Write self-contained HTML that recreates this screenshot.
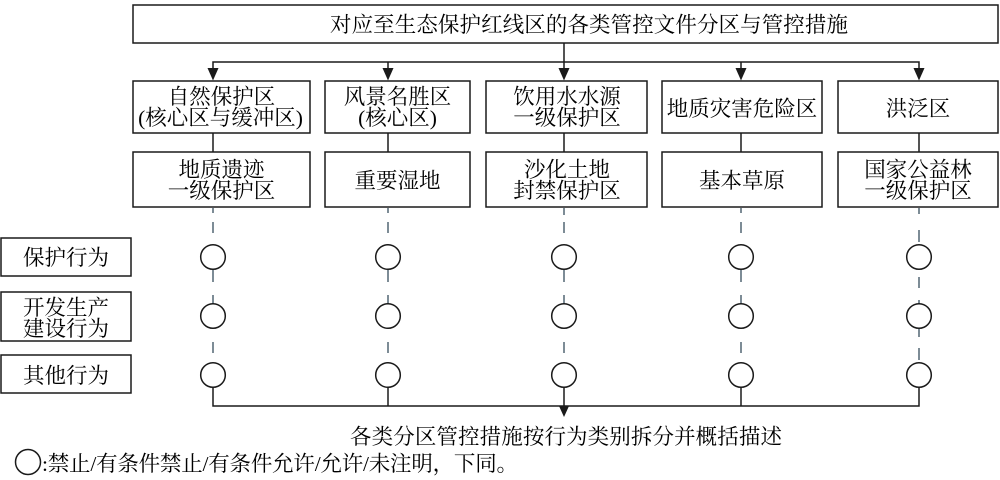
<!DOCTYPE html>
<html><head><meta charset="utf-8"><style>
html,body{margin:0;padding:0;background:#fff;}
svg{display:block;}
text{font-family:"Liberation Serif","Noto Serif CJK SC",serif;font-size:21.5px;fill:#000;}
</style></head><body>
<svg width="1000" height="480" viewBox="0 0 1000 480" xmlns="http://www.w3.org/2000/svg">
<g fill="none" stroke="#1a1a1a" stroke-width="1.5">
<!-- top box -->
<rect x="133" y="5" width="865" height="38"/>
<!-- row1 boxes -->
<rect x="133" y="81" width="177" height="52"/>
<rect x="325" y="81" width="145" height="52"/>
<rect x="486" y="81" width="161" height="52"/>
<rect x="662" y="81" width="160" height="52"/>
<rect x="838" y="81" width="160" height="52"/>
<!-- row2 boxes -->
<rect x="133" y="152" width="177" height="55"/>
<rect x="325" y="152" width="145" height="55"/>
<rect x="486" y="152" width="161" height="55"/>
<rect x="662" y="152" width="160" height="55"/>
<rect x="838" y="152" width="160" height="55"/>
<!-- left label boxes -->
<rect x="1" y="238" width="130" height="38"/>
<rect x="1" y="292" width="130" height="49"/>
<rect x="1" y="355" width="130" height="38"/>
<!-- top connectors -->
<line x1="564" y1="43" x2="564" y2="70"/>
<polyline points="213,70 213,62 919,62 919,70"/>
<line x1="388" y1="62" x2="388" y2="70"/>
<line x1="741" y1="62" x2="741" y2="70"/>
<!-- row1 to row2 -->
<line x1="213" y1="133" x2="213" y2="152"/>
<line x1="388" y1="133" x2="388" y2="152"/>
<line x1="564" y1="133" x2="564" y2="152"/>
<line x1="741" y1="133" x2="741" y2="152"/>
<line x1="919" y1="133" x2="919" y2="152"/>
<!-- bottom connectors -->
<polyline points="213,387 213,406 919,406 919,387"/>
<line x1="388" y1="387" x2="388" y2="406"/>
<line x1="564" y1="387" x2="564" y2="406"/>
<line x1="741" y1="387" x2="741" y2="406"/>
<line x1="564" y1="406" x2="564" y2="410"/>
</g>
<!-- arrowheads -->
<g fill="#1a1a1a" stroke="none">
<polygon points="207.5,68 218.5,68 213,80.5"/>
<polygon points="382.5,68 393.5,68 388,80.5"/>
<polygon points="558.5,68 569.5,68 564,80.5"/>
<polygon points="735.5,68 746.5,68 741,80.5"/>
<polygon points="913.5,68 924.5,68 919,80.5"/>
<polygon points="559,406 569,406 564,417"/>
</g>
<!-- dashed segments -->
<g stroke="#5d6f7c" stroke-width="1.6">
<path d="M213 208V213 M213 222V233 M213 270V282 M213 295V304 M213 342V353"/>
<path d="M388 208V213 M388 222V233 M388 270V282 M388 295V304 M388 342V353"/>
<path d="M564 208V215 M564 222V233 M564 270V282 M564 295V304 M564 342V353"/>
<path d="M741 208V213 M741 222V233 M741 270V282 M741 295V304 M741 342V353"/>
<path d="M919 208V214 M919 230V242 M919 277V288 M919 300V305 M919 329V337 M919 348V360"/>
</g>
<!-- circles -->
<g fill="#fff" stroke="#1a1a1a" stroke-width="1.5">
<circle cx="213" cy="257" r="12.3"/><circle cx="213" cy="316" r="12.3"/><circle cx="213" cy="375" r="12.3"/>
<circle cx="388" cy="257" r="12.3"/><circle cx="388" cy="316" r="12.3"/><circle cx="388" cy="375" r="12.3"/>
<circle cx="564" cy="257" r="12.3"/><circle cx="564" cy="316" r="12.3"/><circle cx="564" cy="375" r="12.3"/>
<circle cx="741" cy="257" r="12.3"/><circle cx="741" cy="316" r="12.3"/><circle cx="741" cy="375" r="12.3"/>
<circle cx="919" cy="257" r="12.3"/><circle cx="919" cy="316" r="12.3"/><circle cx="919" cy="375" r="12.3"/>
<circle cx="28" cy="462" r="12.5"/>
</g>
<!-- texts -->
<text x="330" y="32" textLength="518" lengthAdjust="spacing">对应至生态保护红线区的各类管控文件分区与管控措施</text>

<g text-anchor="middle">
<text x="221.5" y="104">自然保护区</text>
<text x="220.5" y="125">(核心区与缓冲区)</text>
<text x="397.5" y="104">风景名胜区</text>
<text x="397.5" y="125">(核心区)</text>
<text x="567" y="104">饮用水水源</text>
<text x="567" y="125">一级保护区</text>
<text x="742" y="116">地质灾害危险区</text>
<text x="918" y="116">洪泛区</text>

<text x="221.5" y="177">地质遗迹</text>
<text x="221.5" y="198">一级保护区</text>
<text x="397.5" y="188">重要湿地</text>
<text x="567" y="177">沙化土地</text>
<text x="567" y="198">封禁保护区</text>
<text x="742" y="188">基本草原</text>
<text x="918" y="177">国家公益林</text>
<text x="918" y="198">一级保护区</text>

<text x="66" y="265">保护行为</text>
<text x="66" y="315">开发生产</text>
<text x="66" y="336">建设行为</text>
<text x="66" y="383">其他行为</text>
</g>

<text x="350" y="444" textLength="432" lengthAdjust="spacing">各类分区管控措施按行为类别拆分并概括描述</text>
<text x="42" y="471" textLength="476" lengthAdjust="spacing">:禁止/有条件禁止/有条件允许/允许/未注明，下同。</text>
</svg>
</body></html>
